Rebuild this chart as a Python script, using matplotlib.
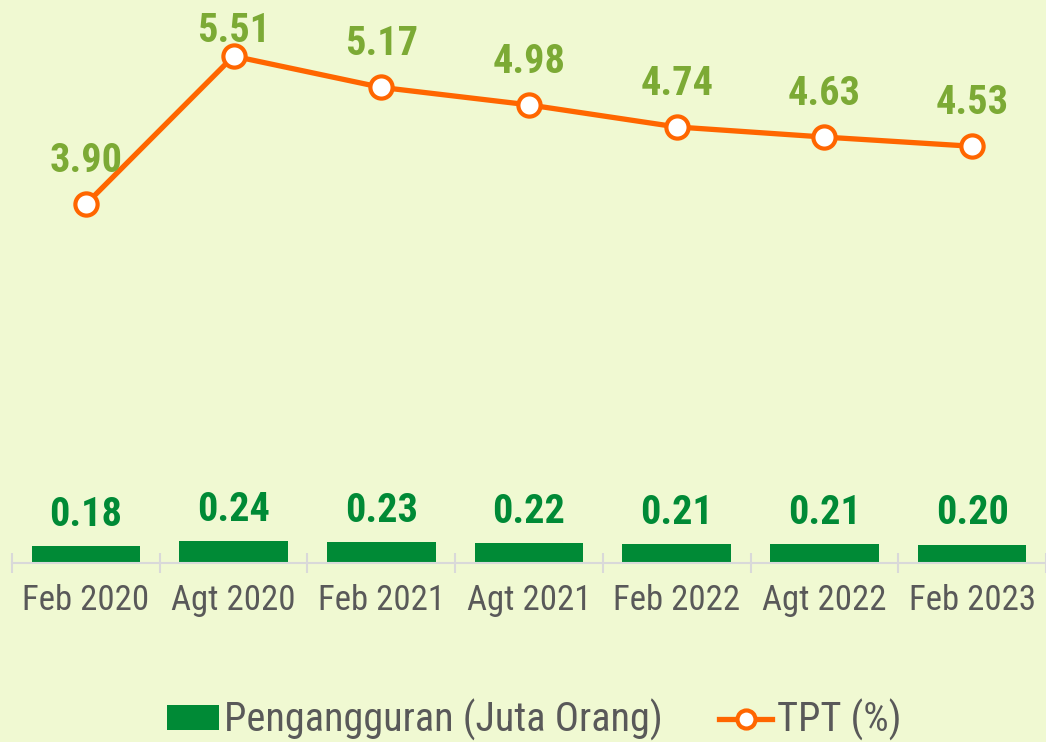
import matplotlib
matplotlib.use("Agg")
import matplotlib.pyplot as plt
from matplotlib.patches import Patch
from matplotlib.lines import Line2D

categories = ["Feb 2020", "Agt 2020", "Feb 2021", "Agt 2021", "Feb 2022", "Agt 2022", "Feb 2023"]
pengangguran = [0.18, 0.24, 0.23, 0.22, 0.21, 0.21, 0.20]
tpt = [3.90, 5.51, 5.17, 4.98, 4.74, 4.63, 4.53]
bar_labels = ["0.18", "0.24", "0.23", "0.22", "0.21", "0.21", "0.20"]
tpt_labels = ["3.90", "5.51", "5.17", "4.98", "4.74", "4.63", "4.53"]
legend_labels = ["Pengangguran (Juta Orang)", "TPT (%)"]

plt.rcParams["font.family"] = ["Roboto Condensed", "Archivo Narrow", "Liberation Sans", "DejaVu Sans"]

BG = "#F0F9D2"
GREEN = "#008A36"
ORANGE = "#FF6600"
OLIVE = "#7CAA35"
GREY = "#595959"

fig = plt.figure(figsize=(10.46, 7.42), dpi=100, facecolor=BG)
ax = fig.add_axes([12/1046, (742-563)/742, 1 - 12/1046, 563/742])
ax.set_facecolor(BG)

x = list(range(len(categories)))
ax.bar(x, pengangguran, width=0.735, color=GREEN, zorder=2)
ax.plot(x, tpt, color=ORANGE, lw=3.8, marker="o", ms=16, mfc="white",
        mec=ORANGE, mew=3.0, zorder=4, clip_on=False)

ytop = 6.12
ax.set_xlim(-0.5, len(categories) - 0.5)
ax.set_ylim(0, ytop)

for xi, v, lab in zip(x, pengangguran, bar_labels):
    ax.annotate(lab, (xi, v), xytext=(0, 14.5), textcoords="offset points",
                ha="center", va="baseline", fontsize=29, fontweight="bold",
                color=GREEN, zorder=5)

for xi, v, lab in zip(x, tpt, tpt_labels):
    yb = min(v + 0.35, ytop - 0.46)
    ax.text(xi, yb, lab, ha="center", va="baseline", fontsize=29,
            fontweight="bold", color=OLIVE, zorder=5)

for s in ["top", "right", "left"]:
    ax.spines[s].set_visible(False)
ax.spines["bottom"].set_color("#D9D9D9")
ax.spines["bottom"].set_linewidth(1.5)
ax.set_yticks([])
ax.set_xticks(x)
ax.set_xticklabels(categories, fontsize=25, color=GREY)
ax.tick_params(axis="x", which="major", length=0, pad=15)
ax.set_xticks([i - 0.5 for i in range(len(categories) + 1)], minor=True)
ax.tick_params(axis="x", which="minor", length=15, width=1.5, color="#D9D9D9", direction="inout")

handles = [Patch(facecolor=GREEN, edgecolor="none"),
           Line2D([0], [0], color=ORANGE, lw=3.8, marker="o", ms=13, mfc="white", mec=ORANGE, mew=3.0)]
leg = fig.legend(handles, legend_labels, loc="center", bbox_to_anchor=(534/1046, 1 - 720/742),
                 ncol=2, frameon=False, fontsize=29, handlelength=1.3, handleheight=0.55,
                 handletextpad=0.12, columnspacing=1.4, labelcolor=GREY)

fig.savefig("out.png", dpi=100, facecolor=BG)
